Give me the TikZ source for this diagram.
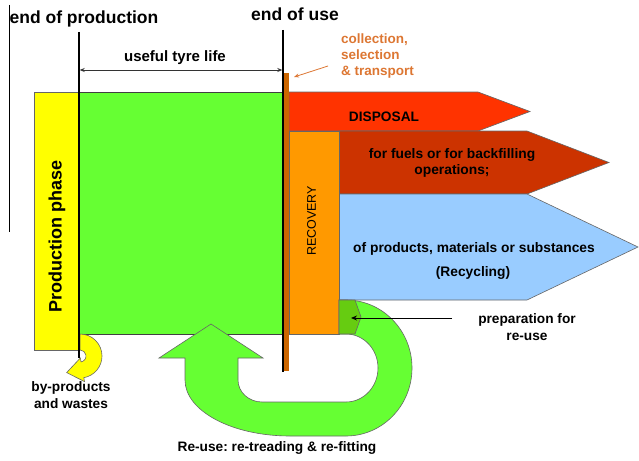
\documentclass[tikz,border=0pt]{standalone}
\usepackage{fontspec}
\setmainfont{Liberation Sans}
\usetikzlibrary{arrows.meta}
\definecolor{cgreen}{HTML}{66FF33}
\definecolor{cyellow}{HTML}{FFFF00}
\definecolor{cred}{HTML}{FF3300}
\definecolor{cdred}{HTML}{CC3300}
\definecolor{corange}{HTML}{FF9900}
\definecolor{cblue}{HTML}{99CCFF}
\definecolor{cbrown}{HTML}{CC6600}
\definecolor{cprep}{HTML}{66CC11}
\definecolor{ctext}{HTML}{DD7733}
\frenchspacing
\begin{document}
\begin{tikzpicture}[x=1pt,y=-1pt,
  box/.style={draw=black!60, line width=0.6pt},
  vline/.style={draw=black, line width=1.3pt},
  title/.style={font=\bfseries\fontsize{17.5}{20}\selectfont, inner sep=0pt},
  lbl/.style={font=\bfseries\fontsize{13.7}{16.5}\selectfont, align=center, inner sep=0pt},
  regl/.style={font=\fontsize{12.5}{15}\selectfont, inner sep=0pt}]
\useasboundingbox (0,0) rectangle (639,460);
\fill[white] (0,0) rectangle (639,460);
% left thin line
\draw[black, line width=0.8pt] (9,5) -- (9,232);
% production and use blocks
\draw[box, fill=cyellow] (34,92) rectangle (79,350);
\draw[box, draw=black!75, fill=cgreen] (79,92) rectangle (282,334);
% output arrows
\draw[box, fill=cred] (289,92) -- (478,92) -- (530,111.5) -- (478,131) -- (289,131) -- cycle;
\draw[box, fill=cdred] (339,131) -- (527,131) -- (609,162.5) -- (527,194) -- (339,194) -- cycle;
\draw[box, fill=cblue] (339,194) -- (527,194) -- (638,247) -- (527,300) -- (339,300) -- cycle;
\draw[box, fill=corange] (289,131) rectangle (339,334);
% re-use U-turn arrow
\draw[box, fill=cgreen] (339,300) -- (346,300)
  arc[start angle=-90, end angle=90, x radius=66, y radius=68] -- (290,436)
  arc[start angle=90, end angle=180, x radius=105, y radius=56] -- (185,358)
  -- (159,358) -- (211,324) -- (263,358) -- (238,358) -- (238,380)
  arc[start angle=180, end angle=90, x radius=24, y radius=22] -- (346,402)
  arc[start angle=90, end angle=-90, x radius=32, y radius=34] -- (339,334) -- cycle;
\draw[box, fill=cprep] (339,300) -- (355,300) -- (361,317) -- (355,334) -- (339,334) -- cycle;
% by-products hook
\draw[box, fill=cyellow] (80,334) arc[start angle=-90, end angle=80, radius=22]
  -- (84.51,381.6) -- (66.67,372.57) -- (80.35,357.97) -- (81.04,361.91)
  arc[start angle=80, end angle=-90, radius=6] -- cycle;
% milestones
\draw[vline] (79,32) -- (79,358);
\fill[cbrown] (283,73) rectangle (289,371);
\draw[vline] (283,30) -- (283,372);
% dimension arrow
\coordinate (dl) at (79.7,70);
\coordinate (dr) at (282.3,70);
\draw[black!80, line width=0.7pt, {Stealth[length=5pt,width=4pt]}-{Stealth[length=5pt,width=4pt]}] (dl) -- (dr);
% collection arrow
\coordinate (ca) at (328,66);
\coordinate (cb) at (294,77);
\draw[ctext, line width=0.8pt, -{Stealth[length=5pt,width=4pt]}] (ca) -- (cb);
% preparation arrow
\coordinate (pa) at (452,318);
\coordinate (pb) at (351,318);
\draw[black, line width=0.9pt, -{Stealth[length=6pt,width=5pt]}] (pa) -- (pb);
% texts
\node[title, anchor=base] (tprod) at (84,23.5) {end of production};
\node[title, anchor=base] (tuse) at (295,21) {end of use};
\node[font=\bfseries\fontsize{15}{18}\selectfont, inner sep=0pt, anchor=base] (tlife) at (175,61.7) {useful tyre life};
\node[lbl, text=ctext, align=left, anchor=west, font=\bfseries\fontsize{13.5}{16}\selectfont] (tcoll) at (341,56) {collection,\\selection\\\& transport};
\node[lbl] (tdisp) at (384,116.5) {DISPOSAL};
\node[lbl, font=\bfseries\fontsize{13.8}{16}\selectfont] (tfuel) at (452,163) {for fuels or for backfilling\\operations;};
\node[lbl, font=\bfseries\fontsize{13.8}{16}\selectfont] (tprodm) at (474,249) {of products, materials or substances};
\node[lbl, font=\bfseries\fontsize{13.8}{16}\selectfont] (trec) at (473,273) {(Recycling)};
\node[regl, rotate=90] (treco) at (311.5,221) {RECOVERY};
\node[font=\bfseries\fontsize{18}{20}\selectfont, inner sep=0pt, rotate=90] (tpp) at (57,236) {Production phase};
\node[lbl] (tprep) at (527,327) {preparation for\\re-use};
\node[lbl] (tby) at (71,395) {by-products\\and wastes};
\node[lbl] (tre) at (277,448) {Re-use: re-treading \& re-fitting};
\end{tikzpicture}
\end{document}
